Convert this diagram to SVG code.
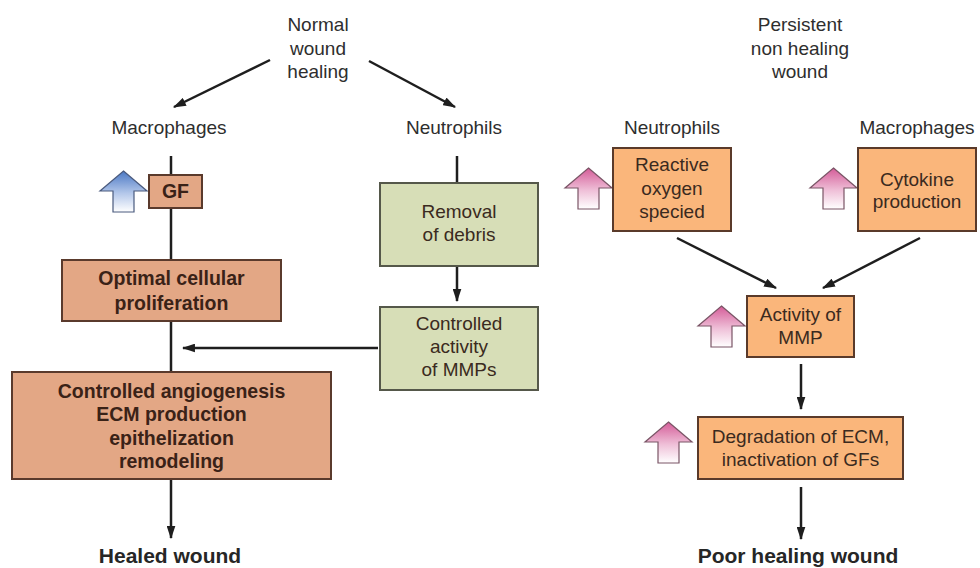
<svg xmlns="http://www.w3.org/2000/svg" xmlns:xlink="http://www.w3.org/1999/xlink" width="980" height="568" viewBox="0 0 980 568">
<style>
text{font-family:"Liberation Sans",Arial,sans-serif;text-anchor:middle}
.lbl{font-size:19px;fill:#2e2e2e}
.box{font-size:19px;fill:#3a2a20}
.bb{font-size:19.5px;font-weight:bold;fill:#3a2217}
.end{font-size:21px;font-weight:bold;fill:#262626}
.sal{fill:#e3a785;stroke:#5a3a2c;stroke-width:2}
.org{fill:#fab67b;stroke:#5a3a2a;stroke-width:2}
.grn{fill:#d7deb7;stroke:#55584a;stroke-width:2}
.ln{stroke:#1e1e1e;stroke-width:2.5;fill:none}
.arr{marker-end:url(#ah)}
</style>
<defs>
<marker id="ah" viewBox="0 0 12 8" refX="11" refY="4" markerWidth="5.2" markerHeight="3.6" orient="auto" markerUnits="strokeWidth">
<path d="M0,0 L12,4 L0,8 Z" fill="#1e1e1e"/>
</marker>
<linearGradient id="gb" x1="0" y1="0" x2="0" y2="1">
<stop offset="0" stop-color="#4a78c4"/><stop offset="0.55" stop-color="#b5c8ea"/><stop offset="1" stop-color="#ffffff"/>
</linearGradient>
<linearGradient id="gp" x1="0" y1="0" x2="0" y2="1">
<stop offset="0" stop-color="#d45c98"/><stop offset="0.55" stop-color="#efc0d8"/><stop offset="1" stop-color="#ffffff"/>
</linearGradient>
<path id="up" d="M23.5,0 L47,20 L34,20 L34,41 L13,41 L13,20 L0,20 Z"/>
</defs>
<rect width="980" height="568" fill="#ffffff"/>

<g id="connectors">
<line class="ln arr" x1="270" y1="60" x2="174" y2="107"/>
<line class="ln arr" x1="369" y1="61" x2="455" y2="107"/>
<line class="ln" x1="171" y1="156" x2="171" y2="175"/>
<line class="ln" x1="171" y1="208" x2="171" y2="260"/>
<line class="ln" x1="171" y1="321" x2="171" y2="372"/>
<line class="ln arr" x1="171" y1="479" x2="171" y2="538"/>
<line class="ln" x1="457" y1="156" x2="457" y2="183"/>
<line class="ln arr" x1="457" y1="266" x2="457" y2="301"/>
<line class="ln arr" x1="378" y1="348" x2="183" y2="348"/>
<line class="ln arr" x1="677" y1="238" x2="776" y2="288"/>
<line class="ln arr" x1="920" y1="238" x2="823" y2="288"/>
<line class="ln arr" x1="801" y1="364" x2="801" y2="409"/>
<line class="ln arr" x1="801" y1="487" x2="801" y2="539"/>
</g>

<g id="normal-label">
<text class="lbl" x="318" y="31">Normal</text>
<text class="lbl" x="318" y="55">wound</text>
<text class="lbl" x="318" y="78">healing</text>
</g>
<g id="macrophages-left"><text class="lbl" x="169" y="134">Macrophages</text></g>
<g id="neutrophils-left"><text class="lbl" x="454" y="134">Neutrophils</text></g>

<g id="gf">
<use href="#up" x="100" y="171" fill="url(#gb)" stroke="#4a5a7e" stroke-width="1.2"/>
<rect class="sal" x="149" y="175" width="53" height="33"/>
<text class="bb" x="175.5" y="198">GF</text>
</g>

<g id="optimal">
<rect class="sal" x="62" y="260" width="219" height="61"/>
<text class="bb" x="171.5" y="285">Optimal cellular</text>
<text class="bb" x="171.5" y="310">proliferation</text>
</g>

<g id="controlled-angiogenesis">
<rect class="sal" x="12" y="372" width="319" height="107"/>
<text class="bb" x="171.5" y="398">Controlled angiogenesis</text>
<text class="bb" x="171.5" y="421">ECM production</text>
<text class="bb" x="171.5" y="445">epithelization</text>
<text class="bb" x="171.5" y="468">remodeling</text>
</g>

<g id="healed"><text class="end" x="170" y="563">Healed wound</text></g>

<g id="removal">
<rect class="grn" x="380" y="183" width="158" height="83"/>
<text class="box" x="459" y="218">Removal</text>
<text class="box" x="459" y="241">of debris</text>
</g>

<g id="controlled-mmps">
<rect class="grn" x="380" y="307" width="158" height="83"/>
<text class="box" x="459" y="330">Controlled</text>
<text class="box" x="459" y="353">activity</text>
<text class="box" x="459" y="376">of MMPs</text>
</g>

<g id="persistent-label">
<text class="lbl" x="800" y="31">Persistent</text>
<text class="lbl" x="800" y="55">non healing</text>
<text class="lbl" x="800" y="78">wound</text>
</g>
<g id="neutrophils-right"><text class="lbl" x="672" y="134">Neutrophils</text></g>
<g id="macrophages-right"><text class="lbl" x="917" y="134">Macrophages</text></g>

<g id="reactive">
<use href="#up" x="565" y="168" fill="url(#gp)" stroke="#7a5566" stroke-width="1.2"/>
<rect class="org" x="613" y="148" width="118" height="83"/>
<text class="box" x="672" y="171">Reactive</text>
<text class="box" x="672" y="195">oxygen</text>
<text class="box" x="672" y="218">specied</text>
</g>

<g id="cytokine">
<use href="#up" x="810" y="168" fill="url(#gp)" stroke="#7a5566" stroke-width="1.2"/>
<rect class="org" x="858" y="148" width="118" height="83"/>
<text class="box" x="917" y="186">Cytokine</text>
<text class="box" x="917" y="208">production</text>
</g>

<g id="activity-mmp">
<use href="#up" x="698" y="306" fill="url(#gp)" stroke="#7a5566" stroke-width="1.2"/>
<rect class="org" x="747" y="296" width="107" height="61"/>
<text class="box" x="800.5" y="321">Activity of</text>
<text class="box" x="800.5" y="344">MMP</text>
</g>

<g id="degradation">
<use href="#up" x="645" y="422" fill="url(#gp)" stroke="#7a5566" stroke-width="1.2"/>
<rect class="org" x="698" y="417" width="205" height="62"/>
<text class="box" x="800.5" y="443">Degradation of ECM,</text>
<text class="box" x="800.5" y="466">inactivation of GFs</text>
</g>

<g id="poor"><text class="end" x="798" y="563">Poor healing wound</text></g>
</svg>
